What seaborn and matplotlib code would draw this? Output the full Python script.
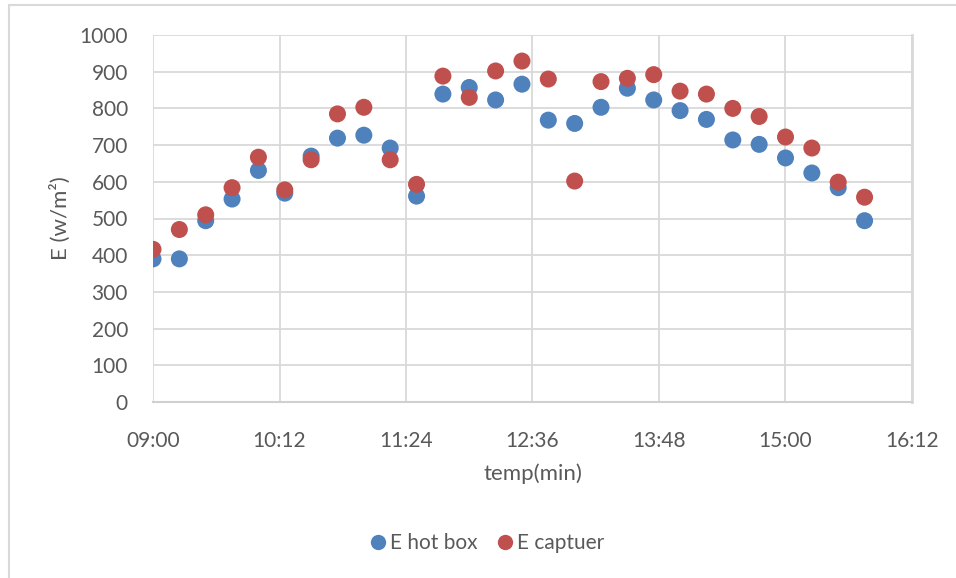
import matplotlib
matplotlib.use("Agg")
import matplotlib.pyplot as plt
import seaborn as sns
import pandas as pd
from matplotlib.ticker import FuncFormatter, MultipleLocator
from matplotlib.patches import Rectangle

# Data: minutes after 09:00 (every 15 min)
minutes = [0, 15, 30, 45, 60, 75, 90, 105, 120, 135, 150, 165, 180, 195,
           210, 225, 240, 255, 270, 285, 300, 315, 330, 345, 360, 375, 390, 405]
e_hot_box = [390, 390, 494, 553, 631, 569, 670, 719, 727, 692, 561, 839, 857, 823,
             866, 768, 759, 803, 855, 823, 794, 770, 714, 702, 665, 624, 584, 494]
e_captuer = [416, 470, 510, 584, 667, 578, 660, 785, 803, 660, 593, 888, 830, 902,
             929, 880, 602, 873, 882, 892, 847, 839, 800, 778, 722, 692, 599, 558]
series_names = ["E hot box", "E captuer"]
x_ticks = [0, 72, 144, 216, 288, 360, 432]

df = pd.concat([
    pd.DataFrame({"t": minutes, "E": e_hot_box, "serie": series_names[0]}),
    pd.DataFrame({"t": minutes, "E": e_captuer, "serie": series_names[1]}),
], ignore_index=True)

sns.set_theme(style="white")
plt.rcParams['font.family'] = ['Lato', 'DejaVu Sans']

fig = plt.figure(figsize=(9.56, 5.78), dpi=100)
ax = fig.add_axes([153/956, 1-402/578, (912-153)/956, (402-35)/578])

grid_c = "#d9d9d9"
text_c = "#595959"

sns.scatterplot(data=df, x="t", y="E", hue="serie",
                palette={"E hot box": "#4F81BD", "E captuer": "#C0504D"},
                s=150, linewidth=0, ax=ax, zorder=3, legend=True)

ax.set_xlim(0, 432)
ax.set_ylim(0, 1000)
ax.set_xticks(x_ticks)
ax.xaxis.set_major_formatter(FuncFormatter(lambda v, p: f"{9 + int(v)//60:02d}:{int(v)%60:02d}"))
ax.yaxis.set_major_locator(MultipleLocator(100))
ax.grid(True, color=grid_c, linewidth=1.3)
ax.set_axisbelow(True)
for side in ["top", "left"]:
    ax.spines[side].set_visible(False)
ax.spines["right"].set_color(grid_c)
ax.spines["right"].set_linewidth(2)
ax.spines["bottom"].set_color("#d0d0d0")
ax.spines["bottom"].set_linewidth(1.5)
ax.tick_params(axis="both", length=0, labelsize=15, colors=text_c)
ax.tick_params(axis="y", pad=18)
ax.tick_params(axis="x", pad=21)

ax.set_xlabel("temp(min)", fontsize=16, color=text_c, labelpad=9)
ax.set_ylabel("E (w/m²)", fontsize=16, color=text_c, labelpad=6)

handles, labels = ax.get_legend_handles_labels()
ax.legend(handles, labels, loc="center", bbox_to_anchor=(0.44, -0.385),
          ncol=2, frameon=False, fontsize=15, handlelength=0.8,
          handletextpad=0.2, columnspacing=0.9, markerscale=0.9,
          labelcolor=text_c)

# Chart-area border
fig.patches.append(Rectangle((9/956, -0.1), 1.2, 1 - 5/578 + 0.1,
                             transform=fig.transFigure, fill=False,
                             edgecolor=grid_c, linewidth=1.5))

fig.savefig("out.png", dpi=100)
